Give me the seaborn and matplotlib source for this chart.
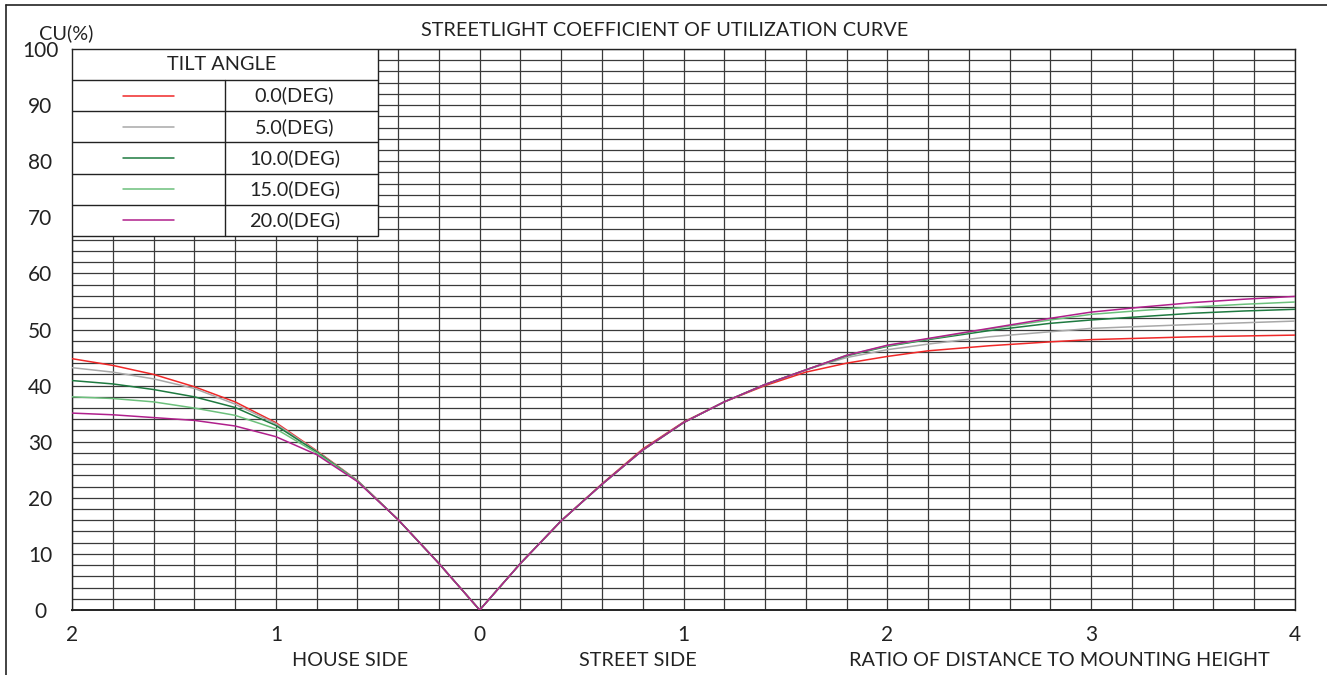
import numpy as np
import pandas as pd
import matplotlib
matplotlib.use("Agg")
import matplotlib.pyplot as plt
from matplotlib.lines import Line2D
from matplotlib.patches import Rectangle
import seaborn as sns

# tilt angles and their curve colours
tilts = ["0.0(DEG)", "5.0(DEG)", "10.0(DEG)", "15.0(DEG)", "20.0(DEG)"]
colors = ["#f02828", "#a8a8a8", "#1e7a40", "#6cc07c", "#b0208c"]

# house side (plotted as negative ratio), street side positive
x_house = [-2.0, -1.8, -1.6, -1.4, -1.2, -1.0, -0.8, -0.6, -0.4, -0.2]
x_street = [0.0, 0.2, 0.4, 0.6, 0.8, 1.0, 1.2, 1.4, 1.6, 1.8, 2.0, 2.2, 2.5,
            2.8, 3.0, 3.25, 3.5, 3.75, 4.0]

cu_house_0 = [44.8, 43.6, 42.0, 39.8, 37.1, 33.4, 28.4, 23.1, 16.1, 8.3]
cu_house_5 = [43.2, 42.4, 41.2, 39.5, 36.7, 33.2, 28.3, 23.1, 16.1, 8.3]
cu_house_10 = [40.9, 40.3, 39.3, 38.0, 36.1, 32.9, 28.2, 23.0, 16.1, 8.3]
cu_house_15 = [38.0, 37.7, 37.1, 36.0, 34.7, 32.3, 28.0, 23.0, 16.1, 8.3]
cu_house_20 = [35.1, 34.8, 34.3, 33.8, 32.8, 30.9, 27.7, 22.9, 16.1, 8.3]

cu_street_0 = [0.0, 8.3, 15.9, 22.5, 28.7, 33.5, 37.1, 40.0, 42.4, 44.0, 45.2,
               46.2, 47.1, 47.8, 48.2, 48.45, 48.7, 48.85, 49.0]
cu_street_5 = [0.0, 8.3, 15.9, 22.4, 28.5, 33.4, 37.1, 40.2, 42.8, 45.0, 46.4,
               47.4, 48.7, 49.6, 50.2, 50.55, 50.9, 51.2, 51.5]
cu_street_10 = [0.0, 8.3, 15.9, 22.4, 28.5, 33.4, 37.1, 40.2, 42.8, 45.3, 47.0,
                48.2, 49.8, 51.1, 51.7, 52.3, 52.9, 53.3, 53.6]
cu_street_15 = [0.0, 8.3, 15.9, 22.4, 28.5, 33.4, 37.1, 40.2, 42.8, 45.4, 47.1,
                48.3, 50.1, 51.7, 52.7, 53.4, 54.0, 54.5, 54.9]
cu_street_20 = [0.0, 8.3, 15.9, 22.4, 28.5, 33.4, 37.1, 40.2, 42.8, 45.4, 47.2,
                48.4, 50.2, 52.0, 53.1, 54.0, 54.8, 55.4, 55.9]

x_ticks = [-2, -1, 0, 1, 2, 3, 4]
x_tick_labels = ["2", "1", "0", "1", "2", "3", "4"]
y_ticks = [0, 10, 20, 30, 40, 50, 60, 70, 80, 90, 100]

house = [cu_house_0, cu_house_5, cu_house_10, cu_house_15, cu_house_20]
street = [cu_street_0, cu_street_5, cu_street_10, cu_street_15, cu_street_20]
rows = []
for tilt, h, s in zip(tilts, house, street):
    for x, v in zip(x_house + x_street, h + s):
        rows.append({"ratio": x, "cu": v, "tilt": tilt})
df = pd.DataFrame(rows)

sns.set_style("white")
plt.rcParams["font.family"] = ["Lato", "DejaVu Sans"]
txt = "#222222"
fs = 14.3

fig = plt.figure(figsize=(13.27, 6.75), dpi=100)
ax = fig.add_axes([72 / 1327, 65 / 675, 1223 / 1327, 561 / 675])

sns.lineplot(data=df, x="ratio", y="cu", hue="tilt", hue_order=tilts,
             palette=colors, estimator=None, linewidth=1.1, legend=False,
             ax=ax, zorder=3)

ax.set_xlim(-2, 4)
ax.set_ylim(0, 100)
ax.set_xticks(np.arange(-2, 4.01, 0.2), minor=True)
ax.set_yticks(np.arange(0, 100.1, 2), minor=True)
ax.grid(which="both", color="#3a3a3a", linewidth=0.9)
ax.set_axisbelow(True)
ax.set_xticks(x_ticks)
ax.set_xticklabels(x_tick_labels)
ax.set_yticks(y_ticks)
ax.tick_params(which="both", length=0, labelsize=15, colors=txt)
ax.tick_params(axis="x", pad=11)
for lab in ax.get_yticklabels():
    lab.set_horizontalalignment("center")
ax.tick_params(axis="y", pad=23)
ax.set_xlabel("")
ax.set_ylabel("")
for side, sp in ax.spines.items():
    sp.set_color("#222222")
    sp.set_linewidth(1.0)
ax.spines["bottom"].set_linewidth(1.4)

# legend table in the upper-left corner
tab_right = 306 / 1223
col_split = 153 / 1223
head_bot = (610 - 80) / 561
row_h = 31.2 / 561
tab_bot = head_bot - 5 * row_h
ax.add_patch(Rectangle((0, tab_bot), tab_right, 1 - tab_bot, transform=ax.transAxes,
                       facecolor="white", edgecolor="#222222", linewidth=1.0, zorder=5))
ax.add_line(Line2D([0, tab_right], [head_bot, head_bot], transform=ax.transAxes,
                   color="#222222", linewidth=1.0, zorder=6))
ax.add_line(Line2D([col_split, col_split], [tab_bot, head_bot], transform=ax.transAxes,
                   color="#222222", linewidth=1.0, zorder=6))
ax.text(tab_right / 2 - 0.003, (1 + head_bot) / 2, "TILT ANGLE", transform=ax.transAxes,
        ha="center", va="center", fontsize=fs, color=txt, zorder=7)
for i, (tilt, c) in enumerate(zip(tilts, colors)):
    top = head_bot - i * row_h
    mid = top - row_h / 2
    if i > 0:
        ax.add_line(Line2D([0, tab_right], [top, top], transform=ax.transAxes,
                           color="#222222", linewidth=1.0, zorder=6))
    ax.add_line(Line2D([0.042, 0.083], [mid, mid], transform=ax.transAxes,
                       color=c, linewidth=1.1, zorder=7))
    ax.text(0.182, mid, tilt, transform=ax.transAxes, ha="center", va="center",
            fontsize=fs, color=txt, zorder=7)

# titles and axis captions
fig.text(665 / 1327, 1 - 31 / 675, "STREETLIGHT COEFFICIENT OF UTILIZATION CURVE",
         ha="center", va="center", fontsize=fs, color=txt)
fig.text(39 / 1327, 1 - 33 / 675, "CU(%)", ha="left", va="center", fontsize=fs, color=txt)
fig.text(350 / 1327, 1 - 660 / 675, "HOUSE SIDE", ha="center", va="center",
         fontsize=fs, color=txt)
fig.text(638 / 1327, 1 - 660 / 675, "STREET SIDE", ha="center", va="center",
         fontsize=fs, color=txt)
fig.text(1059 / 1327, 1 - 660 / 675, "RATIO OF DISTANCE TO MOUNTING HEIGHT",
         ha="center", va="center", fontsize=fs, color=txt)

# outer frame (top and left edges)
fig.add_artist(Line2D([5.5 / 1327, 1], [1 - 4.5 / 675, 1 - 4.5 / 675],
                      transform=fig.transFigure, color="#222222", linewidth=1.2))
fig.add_artist(Line2D([5.5 / 1327, 5.5 / 1327], [0, 1 - 4.5 / 675],
                      transform=fig.transFigure, color="#222222", linewidth=1.2))

fig.savefig("out.png", dpi=100)
